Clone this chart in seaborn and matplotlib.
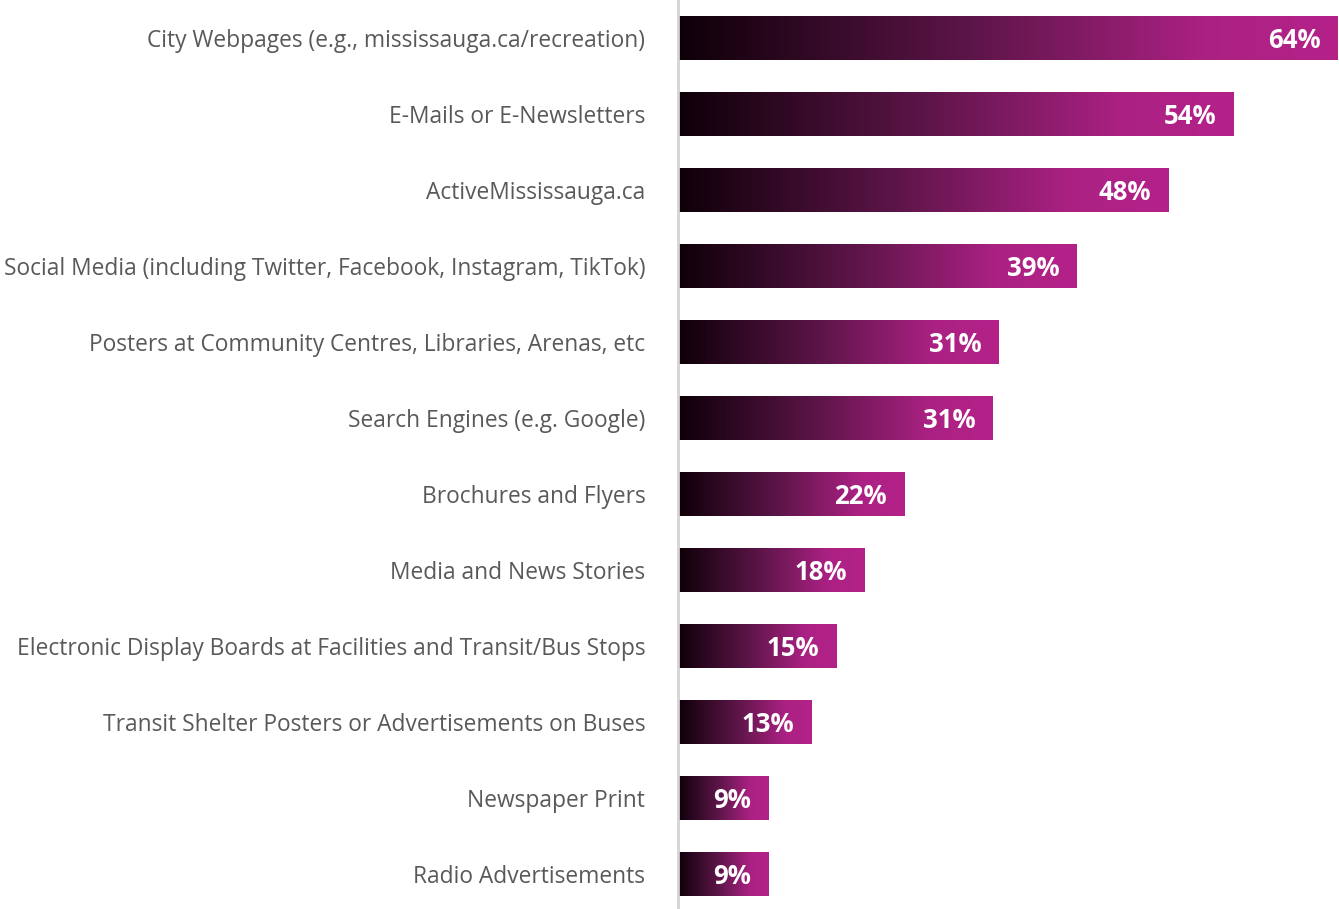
import numpy as np
import pandas as pd
import matplotlib
matplotlib.use("Agg")
import matplotlib.pyplot as plt
import seaborn as sns
from matplotlib.colors import LinearSegmentedColormap
import matplotlib.transforms as mtransforms

categories = [
    "City Webpages (e.g., mississauga.ca/recreation)",
    "E-Mails or E-Newsletters",
    "ActiveMississauga.ca",
    "Social Media (including Twitter, Facebook, Instagram, TikTok)",
    "Posters at Community Centres, Libraries, Arenas, etc",
    "Search Engines (e.g. Google)",
    "Brochures and Flyers",
    "Media and News Stories",
    "Electronic Display Boards at Facilities and Transit/Bus Stops",
    "Transit Shelter Posters or Advertisements on Buses",
    "Newspaper Print",
    "Radio Advertisements",
]
values = [64.2, 54.0, 47.7, 38.8, 31.2, 30.6, 22.0, 18.1, 15.4, 13.0, 8.8, 8.8]
value_labels = ["64%", "54%", "48%", "39%", "31%", "31%", "22%", "18%", "15%", "13%", "9%", "9%"]

df = pd.DataFrame({"category": categories, "value": values})

sns.set_theme(style="white")
plt.rcParams["font.family"] = ["Open Sans", "DejaVu Sans"]

fig = plt.figure(figsize=(13.39, 9.09), dpi=100)
ax = fig.add_axes([678 / 1339, 0, 1 - 678 / 1339, 1])

sns.barplot(data=df, x="value", y="category", orient="h", ax=ax,
            width=0.57, color="#b02085", edgecolor="none")

cmap = LinearSegmentedColormap.from_list(
    "grad", [(0.0, "#0e0008"), (0.45, "#5e1549"), (0.8, "#ab2183"), (1.0, "#b42289")])
grad = np.linspace(0, 1, 256).reshape(1, -1)

for patch in ax.patches:
    x0, y0 = patch.get_x(), patch.get_y()
    w, h = patch.get_width(), patch.get_height()
    patch.set_facecolor("none")
    im = ax.imshow(grad, cmap=cmap, aspect="auto", extent=[x0, x0 + w, y0 + h, y0],
                   interpolation="bilinear", zorder=2)
    im.set_clip_path(patch)

ax.set_xlim(0, 64.3)
ax.set_ylim(11.46, -0.5)

offset = mtransforms.ScaledTranslation(-17 / 100, -2 / 100, fig.dpi_scale_trans)
for i, (v, lab) in enumerate(zip(values, value_labels)):
    ax.text(v, i, lab, ha="right", va="center", color="white", fontsize=18.5,
            fontweight="bold", transform=ax.transData + offset, zorder=3)

ax.set_xlabel("")
ax.set_ylabel("")
ax.set_xticks([])
ax.tick_params(axis="y", length=0, pad=23.5, labelsize=16.4, labelcolor="#595959")
for s in ["top", "right", "bottom"]:
    ax.spines[s].set_visible(False)
ax.spines["left"].set_color("#d4d4d4")
ax.spines["left"].set_linewidth(2)
ax.spines["left"].set_zorder(5)

fig.savefig("out.png", dpi=100)
